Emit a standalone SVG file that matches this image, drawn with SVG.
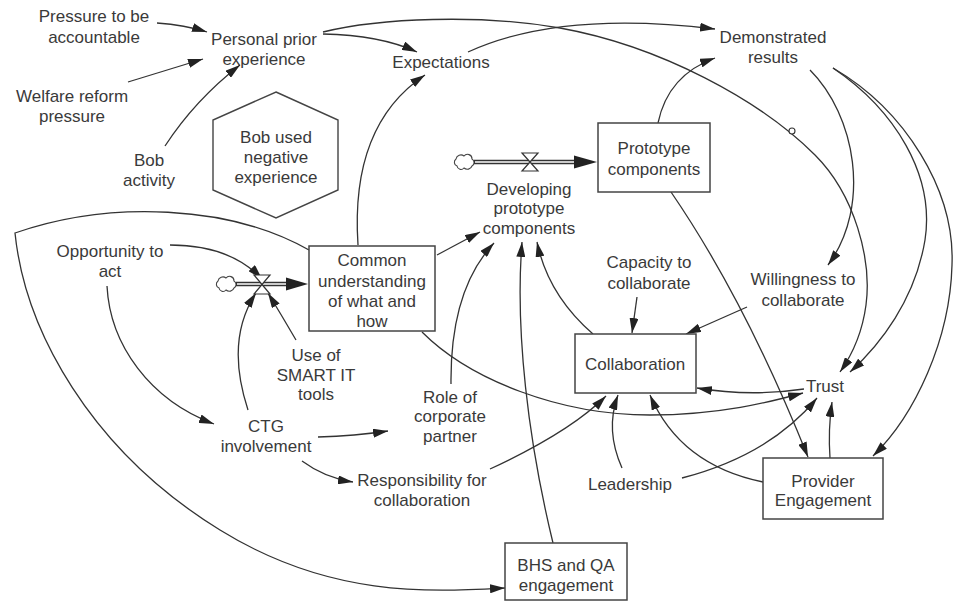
<svg xmlns="http://www.w3.org/2000/svg" width="954" height="601" viewBox="0 0 954 601">
  <style>
    text { font-family: "Liberation Sans", Arial, sans-serif; font-size: 17px; fill: #3a3a3a; text-anchor: middle; }
    .box { fill: #ffffff; stroke: #444; stroke-width: 1.5; }
    .link { fill: none; stroke: #333; stroke-width: 1.3; marker-end: url(#ah); }
    .plain { fill: none; stroke: #333; stroke-width: 1.3; }
    .pipeOuter { stroke: #333; stroke-width: 4.5; fill: none; }
    .pipeInner { stroke: #fff; stroke-width: 1.6; fill: none; }
    .valve { fill: #fff; stroke: #333; stroke-width: 1.2; }
    .cloud { fill: #fff; stroke: #444; stroke-width: 1.1; }
    .head { fill: #222; }
  </style>
  <defs>
    <marker id="ah" viewBox="0 0 15 9" refX="15" refY="4.5" markerWidth="15" markerHeight="9" markerUnits="userSpaceOnUse" orient="auto">
      <path d="M0,0 L15,4.5 L0,9 Z" fill="#222"/>
    </marker>
    <path id="cloudShape" d="M-8,4 a4,4 0 0 1 -1,-7 a5,5 0 0 1 8,-3 a4.5,4.5 0 0 1 8,3 a4,4 0 0 1 0,7 a5,5 0 0 1 -8,2 a4,4 0 0 1 -7,-2 z"/>
  </defs>

  <!-- connectors -->
  <g id="connectors">
    <path class="link" d="M157,23 Q185,25 207,32"/>
    <path class="link" d="M128,82 L203,59"/>
    <path class="link" d="M165,146 Q195,100 240,65"/>
    <path class="link" d="M323,34 Q380,35 417,52"/>
    <!-- personal prior experience to trust, with delay mark -->
    <path class="link" d="M323,32 C380,18 480,14 560,28 C660,46 760,100 815,155 C855,195 872,260 866,305 C862,335 852,355 840,372"/>
    <circle cx="792" cy="131" r="3" fill="#fff" stroke="#333" stroke-width="1.1"/>
    <path class="link" d="M468,52 Q560,10 715,29"/>
    <path class="link" d="M658,123 Q668,75 715,58"/>
    <path class="link" d="M810,70 C855,115 872,205 828,265"/>
    <path class="link" d="M833,68 C895,110 935,175 925,240 C915,300 880,345 850,372"/>
    <path class="link" d="M833,68 C905,110 955,190 952,265 C950,340 915,415 873,456"/>
    <path class="link" d="M747,307 L686,334"/>
    <path class="link" d="M637,297 L632,333"/>
    <path class="link" d="M593,334 Q548,295 537,242"/>
    <path class="link" d="M553,543 C528,440 515,330 522,242"/>
    <path class="link" d="M451,384 Q450,290 494,243"/>
    <path class="link" d="M437,255 L480,232"/>
    <path class="link" d="M358,245 Q350,125 425,75"/>
    <path class="link" d="M422,332 C470,380 560,415 650,415 C720,415 770,402 803,393"/>
    <path class="link" d="M804,389 Q750,397 697,388"/>
    <path class="link" d="M622,468 Q605,430 618,395"/>
    <path class="link" d="M682,478 Q770,455 817,398"/>
    <path class="link" d="M763,482 Q680,465 650,395"/>
    <path class="link" d="M830,458 Q828,430 832,402"/>
    <path class="link" d="M671,192 Q745,300 808,457"/>
    <path class="link" d="M490,469 Q570,432 606,396"/>
    <path class="link" d="M318,437 Q355,436 388,431"/>
    <path class="link" d="M302,461 Q325,478 353,482"/>
    <path class="link" d="M107,286 C110,345 150,400 214,424"/>
    <path class="link" d="M170,245 Q230,245 262,279"/>
    <path class="link" d="M248,410 Q225,340 256,293"/>
    <path class="link" d="M296,340 Q282,316 268,293"/>
    <path class="link" d="M309,250 C230,205 110,200 15,233 C25,330 90,450 220,530 C330,598 430,592 505,588"/>
  </g>

  <!-- flow into common understanding -->
  <g id="flow-understanding">
    <use href="#cloudShape" class="cloud" transform="translate(227,284)"/>
    <line class="pipeOuter" x1="236" y1="284" x2="290" y2="284"/>
    <line class="pipeInner" x1="237" y1="284" x2="290" y2="284"/>
    <polygon class="head" points="286,277.5 308,284 286,290.5"/>
    <path class="valve" d="M254,275 H270 L254,294 H270 Z"/>
  </g>

  <!-- flow into prototype components -->
  <g id="flow-developing">
    <use href="#cloudShape" class="cloud" transform="translate(465,162)"/>
    <line class="pipeOuter" x1="474" y1="162" x2="577" y2="162"/>
    <line class="pipeInner" x1="475" y1="162" x2="577" y2="162"/>
    <polygon class="head" points="574,155.5 597,162 574,168.5"/>
    <path class="valve" d="M522,153 H538 L522,171 H538 Z"/>
  </g>

  <g id="pressure-accountable"><text x="94" y="22">Pressure to be</text><text x="94" y="43">accountable</text></g>
  <g id="personal-prior-experience"><text x="264" y="45">Personal prior</text><text x="264" y="65">experience</text></g>
  <g id="welfare-reform-pressure"><text x="72" y="102">Welfare reform</text><text x="72" y="122">pressure</text></g>
  <g id="bob-activity"><text x="149" y="166">Bob</text><text x="149" y="186">activity</text></g>
  <g id="bob-used-negative-experience">
    <polygon points="276,92 338,120 338,190 276,218 213,190 213,120" fill="#fff" stroke="#444" stroke-width="1.4"/>
    <text x="276" y="143">Bob used</text><text x="276" y="163">negative</text><text x="276" y="183">experience</text>
  </g>
  <g id="expectations"><text x="441" y="68">Expectations</text></g>
  <g id="demonstrated-results"><text x="773" y="43">Demonstrated</text><text x="773" y="63">results</text></g>
  <g id="prototype-components">
    <rect class="box" x="598" y="123" width="112" height="69"/>
    <text x="654" y="154">Prototype</text><text x="654" y="175">components</text>
  </g>
  <g id="developing-prototype-components"><text x="529" y="195">Developing</text><text x="529" y="214">prototype</text><text x="529" y="234">components</text></g>
  <g id="common-understanding">
    <rect class="box" x="309" y="246" width="126" height="85"/>
    <text x="372" y="266">Common</text><text x="372" y="287">understanding</text><text x="372" y="307">of what and</text><text x="372" y="327">how</text>
  </g>
  <g id="opportunity-to-act"><text x="110" y="257">Opportunity to</text><text x="110" y="277">act</text></g>
  <g id="smart-it-tools"><text x="316" y="361">Use of</text><text x="316" y="381">SMART IT</text><text x="316" y="400">tools</text></g>
  <g id="ctg-involvement"><text x="266" y="432">CTG</text><text x="266" y="452">involvement</text></g>
  <g id="role-corporate-partner"><text x="450" y="403">Role of</text><text x="450" y="422">corporate</text><text x="450" y="442">partner</text></g>
  <g id="responsibility-for-collaboration"><text x="422" y="486">Responsibility for</text><text x="422" y="506">collaboration</text></g>
  <g id="capacity-to-collaborate"><text x="649" y="268">Capacity to</text><text x="649" y="289">collaborate</text></g>
  <g id="willingness-to-collaborate"><text x="803" y="285">Willingness to</text><text x="803" y="306">collaborate</text></g>
  <g id="collaboration">
    <rect class="box" x="575" y="334" width="121" height="59"/>
    <text x="635" y="370">Collaboration</text>
  </g>
  <g id="trust"><text x="825" y="392">Trust</text></g>
  <g id="leadership"><text x="630" y="490">Leadership</text></g>
  <g id="provider-engagement">
    <rect class="box" x="763" y="458" width="120" height="61"/>
    <text x="823" y="487">Provider</text><text x="823" y="506">Engagement</text>
  </g>
  <g id="bhs-qa-engagement">
    <rect class="box" x="505" y="543" width="122" height="57"/>
    <text x="566" y="571">BHS and QA</text><text x="566" y="591">engagement</text>
  </g>
</svg>
